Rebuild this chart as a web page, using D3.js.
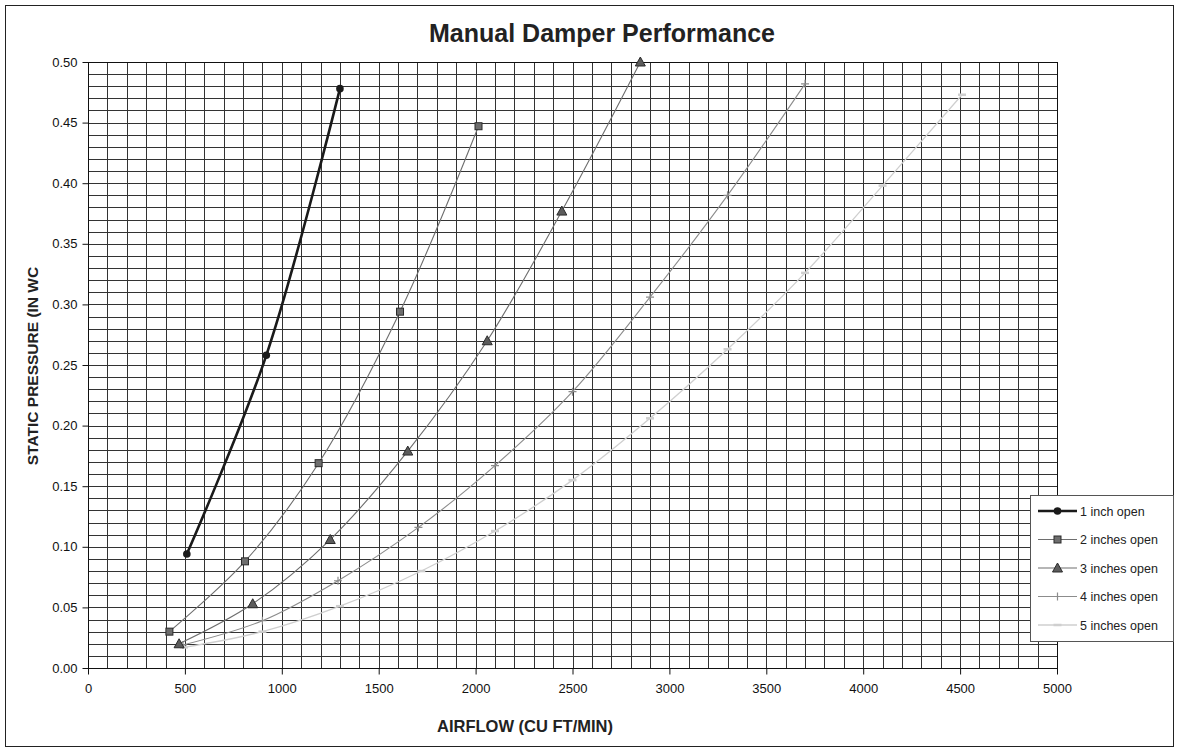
<!DOCTYPE html>
<html>
<head>
<meta charset="utf-8">
<script src="https://cdn.jsdelivr.net/npm/d3@7"></script>
<style>
  body { margin: 0; background: #fff; }
  text { font-family: "Liberation Sans", Arial, sans-serif; }
</style>
</head>
<body>
<div id="chart"></div>
<script>
// series labels
var seriesNames = ["1 inch open", "2 inches open", "3 inches open", "4 inches open", "5 inches open"];

// airflow (cu ft/min) values per series
var airflow1 = [510, 920, 1300];
var airflow2 = [420, 810, 1190, 1610, 2015];
var airflow3 = [470, 850, 1250, 1650, 2060, 2445, 2850];
var airflow4 = [490, 900, 1290, 1705, 2100, 2500, 2900, 3300, 3700];
var airflow5 = [495, 900, 1300, 1720, 2100, 2500, 2900, 3300, 3700, 4100, 4510];

// static pressure (in wc) values per series
var pressure1 = [0.094, 0.258, 0.478];
var pressure2 = [0.030, 0.088, 0.169, 0.294, 0.447];
var pressure3 = [0.020, 0.053, 0.106, 0.179, 0.270, 0.377, 0.500];
var pressure4 = [0.019, 0.039, 0.072, 0.116, 0.167, 0.228, 0.306, 0.390, 0.482];
var pressure5 = [0.017, 0.030, 0.051, 0.080, 0.113, 0.155, 0.206, 0.263, 0.326, 0.398, 0.473];

var xTicks = [0, 500, 1000, 1500, 2000, 2500, 3000, 3500, 4000, 4500, 5000];
var yTicks = [0, 0.05, 0.10, 0.15, 0.20, 0.25, 0.30, 0.35, 0.40, 0.45, 0.50];

(function(){
  var width = 1179, height = 752;
  var pLeft = 88, pRight = 1057, pTop = 62, pBottom = 668;

  var svg = d3.select("#chart").append("svg")
    .attr("width", width)
    .attr("height", height);

  // outer frame
  svg.append("rect")
    .attr("x", 5.5).attr("y", 5.5)
    .attr("width", 1168).attr("height", 741)
    .attr("fill", "#fff").attr("stroke", "#222").attr("stroke-width", 1);

  var x = d3.scaleLinear().domain([0, 5000]).range([pLeft, pRight]);
  var y = d3.scaleLinear().domain([0, 0.5]).range([pBottom, pTop]);

  // grid every 100 cfm and every 0.01 in wc
  var grid = svg.append("g").attr("stroke", "#333").attr("stroke-width", 1);
  grid.selectAll(".vg")
    .data(d3.range(100, 5000, 100))
    .enter().append("line")
    .attr("x1", function(d) { return Math.round(x(d)) + 0.5; })
    .attr("x2", function(d) { return Math.round(x(d)) + 0.5; })
    .attr("y1", pTop).attr("y2", pBottom);
  grid.selectAll(".hg")
    .data(d3.range(1, 50))
    .enter().append("line")
    .attr("y1", function(d) { return Math.round(y(d / 100)) + 0.5; })
    .attr("y2", function(d) { return Math.round(y(d / 100)) + 0.5; })
    .attr("x1", pLeft).attr("x2", pRight);

  // plot border
  svg.append("rect")
    .attr("x", pLeft + 0.5).attr("y", pTop + 0.5)
    .attr("width", pRight - pLeft).attr("height", pBottom - pTop)
    .attr("fill", "none").attr("stroke", "#111");

  // axes
  var xAxis = svg.append("g")
    .attr("transform", "translate(0," + (pBottom + 0.5) + ")")
    .call(d3.axisBottom(x).tickValues(xTicks).tickSize(6).tickPadding(9).tickFormat(d3.format("d")));
  var yAxis = svg.append("g")
    .attr("transform", "translate(" + (pLeft + 0.5) + ",0)")
    .call(d3.axisLeft(y).tickValues(yTicks).tickSize(6).tickPadding(5).tickFormat(d3.format(".2f")));
  [xAxis, yAxis].forEach(function(a) {
    a.select(".domain").remove();
    a.selectAll("line").attr("stroke", "#111");
    a.selectAll("text").attr("font-size", 13).attr("fill", "#111")
      .style("font-family", "'Liberation Sans', Arial, sans-serif");
  });

  // titles
  svg.append("text")
    .attr("x", 602).attr("y", 42)
    .attr("text-anchor", "middle")
    .attr("font-size", 25).attr("font-weight", "bold").attr("fill", "#222")
    .text("Manual Damper Performance");
  svg.append("text")
    .attr("x", 525).attr("y", 732)
    .attr("text-anchor", "middle")
    .attr("font-size", 16.5).attr("font-weight", "bold").attr("fill", "#222")
    .text("AIRFLOW (CU FT/MIN)");
  svg.append("text")
    .attr("transform", "translate(38,366) rotate(-90)")
    .attr("text-anchor", "middle")
    .attr("font-size", 15.5).attr("font-weight", "bold").attr("fill", "#222")
    .text("STATIC PRESSURE (IN WC");

  var series = [
    { name: seriesNames[0], xs: airflow1, ys: pressure1, color: "#1a1a1a", width: 2.6, marker: "circle", fill: "#1a1a1a", mstroke: "#1a1a1a" },
    { name: seriesNames[1], xs: airflow2, ys: pressure2, color: "#6e6e6e", width: 1.1, marker: "square", fill: "#6e6e6e", mstroke: "#2a2a2a" },
    { name: seriesNames[2], xs: airflow3, ys: pressure3, color: "#6e6e6e", width: 1.1, marker: "triangle", fill: "#5c5c5c", mstroke: "#2a2a2a" },
    { name: seriesNames[3], xs: airflow4, ys: pressure4, color: "#8c8c8c", width: 1.1, marker: "plus", fill: "none", mstroke: "#8c8c8c" },
    { name: seriesNames[4], xs: airflow5, ys: pressure5, color: "#cfcfcf", width: 1.3, marker: "dash", fill: "none", mstroke: "#cfcfcf" }
  ];

  var line = d3.line()
    .x(function(d) { return x(d[0]); })
    .y(function(d) { return y(d[1]); })
    .curve(d3.curveCatmullRom.alpha(0.5));

  function drawMarker(g, s, cx, cy) {
    if (s.marker === "circle") {
      g.append("circle").attr("cx", cx).attr("cy", cy).attr("r", 3.8).attr("fill", s.fill);
    } else if (s.marker === "square") {
      g.append("rect").attr("x", cx - 3.5).attr("y", cy - 3.5).attr("width", 7).attr("height", 7)
        .attr("fill", s.fill).attr("stroke", s.mstroke).attr("stroke-width", 1);
    } else if (s.marker === "triangle") {
      g.append("path").attr("d", "M" + cx + "," + (cy - 5) + "L" + (cx + 5) + "," + (cy + 4) + "L" + (cx - 5) + "," + (cy + 4) + "Z")
        .attr("fill", s.fill).attr("stroke", s.mstroke).attr("stroke-width", 1);
    } else if (s.marker === "plus") {
      g.append("path").attr("d", "M" + (cx - 4) + "," + cy + "H" + (cx + 4) + "M" + cx + "," + (cy - 4) + "V" + (cy + 4))
        .attr("stroke", s.mstroke).attr("stroke-width", 1.2);
    } else {
      g.append("path").attr("d", "M" + (cx - 4) + "," + cy + "H" + (cx + 4))
        .attr("stroke", s.mstroke).attr("stroke-width", 2.5);
    }
  }

  // draw lightest first so darker curves sit on top
  series.slice().reverse().forEach(function(s) {
    var pts = s.xs.map(function(v, i) { return [v, s.ys[i]]; });
    var g = svg.append("g");
    g.append("path").datum(pts)
      .attr("d", line)
      .attr("fill", "none")
      .attr("stroke", s.color)
      .attr("stroke-width", s.width);
    pts.forEach(function(p) { drawMarker(g, s, x(p[0]), y(p[1])); });
  });

  // legend
  var legend = svg.append("g");
  legend.append("rect")
    .attr("x", 1030.5).attr("y", 495.5)
    .attr("width", 143).attr("height", 146)
    .attr("fill", "#fff").attr("stroke", "#555").attr("stroke-width", 1);
  series.forEach(function(s, i) {
    var ly = 511 + i * 28.5;
    var g = legend.append("g");
    g.append("line")
      .attr("x1", 1038).attr("x2", 1077)
      .attr("y1", ly).attr("y2", ly)
      .attr("stroke", s.color).attr("stroke-width", s.width);
    drawMarker(g, s, 1057.5, ly);
    g.append("text")
      .attr("x", 1080).attr("y", ly + 4.5)
      .attr("font-size", 12.5).attr("fill", "#222")
      .text(s.name);
  });
})();
</script>
</body>
</html>
